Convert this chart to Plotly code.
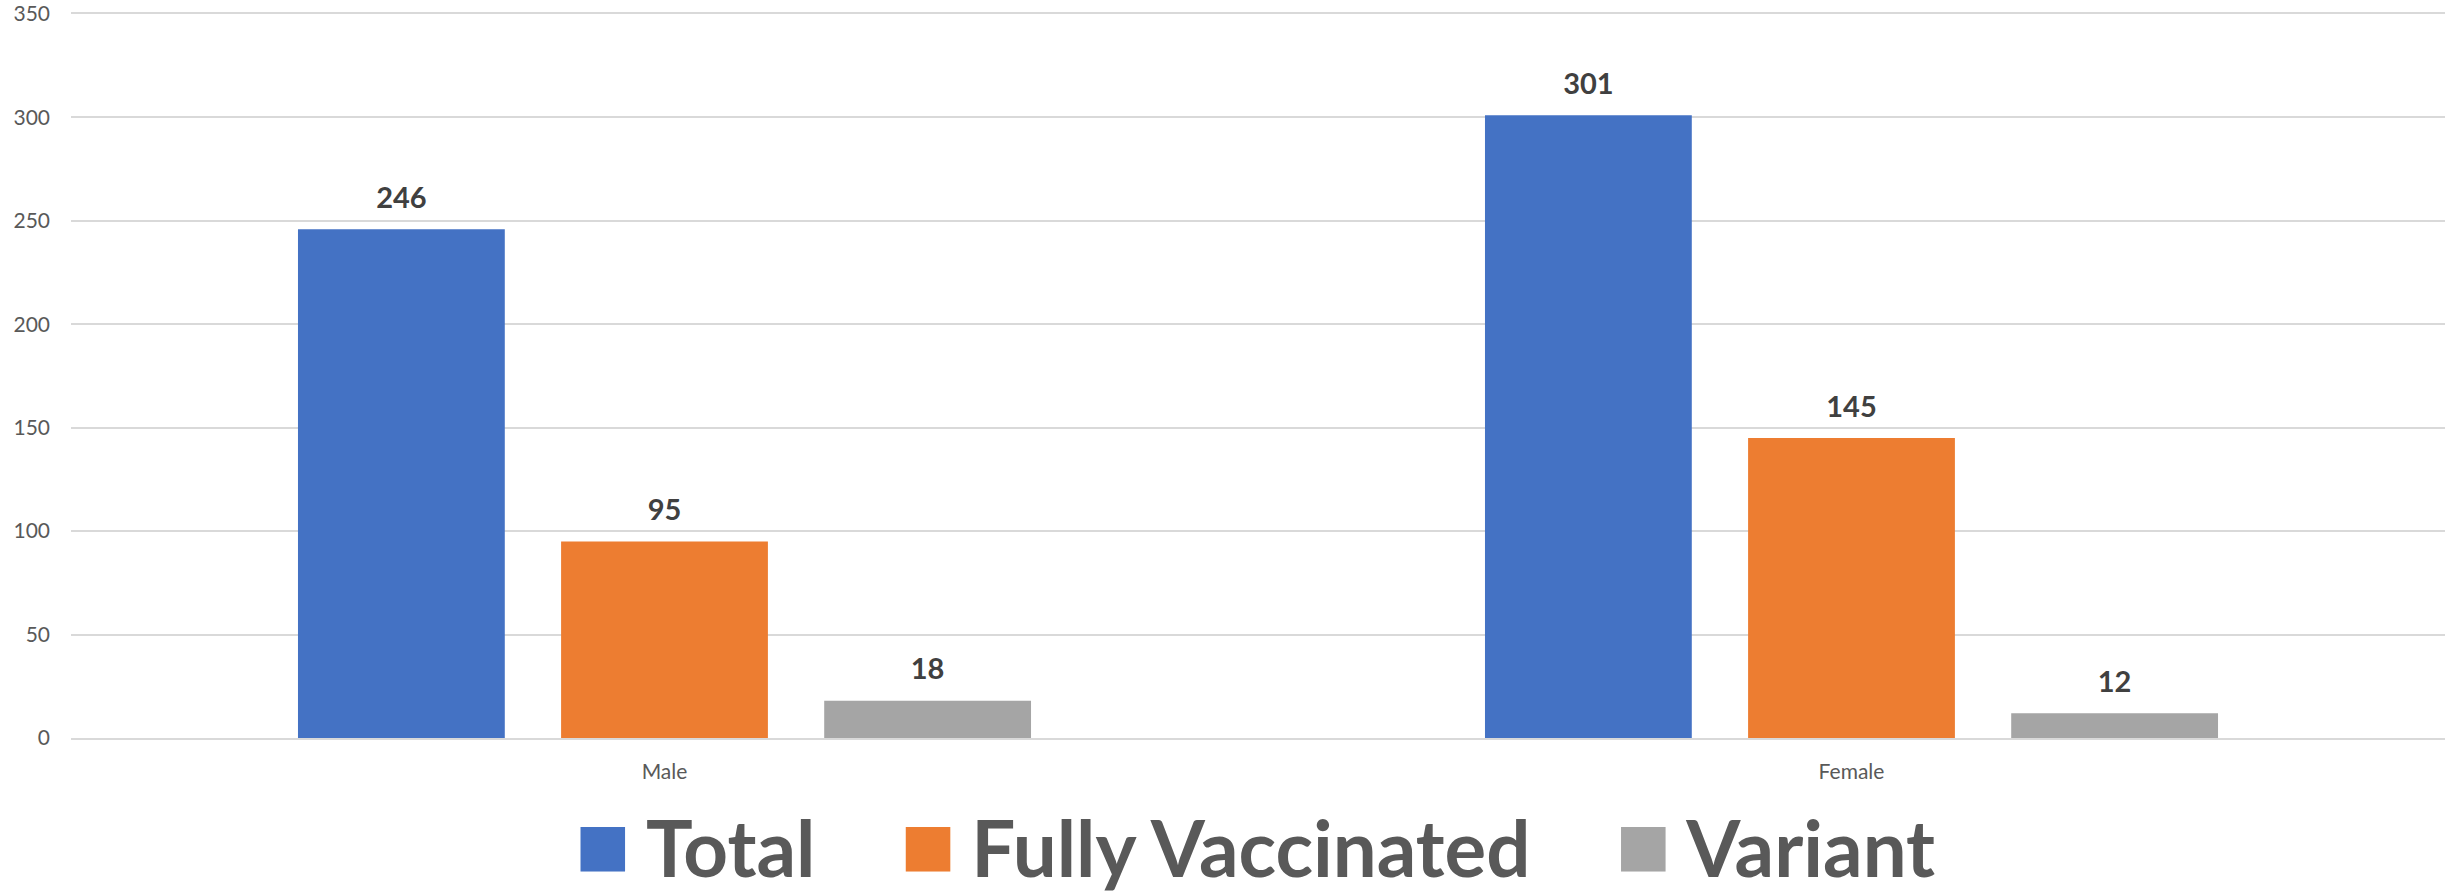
import plotly.graph_objects as go

categories = ["Male", "Female"]
series_names = ["Total", "Fully Vaccinated", "Variant"]
total = [246, 301]
fully_vaccinated = [95, 145]
variant = [18, 12]
colors = ["#4472C4", "#ED7D31", "#A5A5A5"]
y_ticks = [0, 50, 100, 150, 200, 250, 300, 350]
label_pad = 6  # visual gap (in axis units) between bar top and its value label

fig = go.Figure()
for i, (name, vals, col) in enumerate(zip(series_names, [total, fully_vaccinated, variant], colors)):
    fig.add_trace(go.Bar(
        x=categories, y=vals, name=name, offsetgroup=str(i),
        marker=dict(color=col, line=dict(width=0)), showlegend=False,
    ))
    # transparent spacer carrying the value label
    fig.add_trace(go.Bar(
        x=categories, y=[label_pad] * len(vals), base=vals, offsetgroup=str(i),
        marker=dict(color="rgba(0,0,0,0)", line=dict(width=0)), showlegend=False,
        text=vals, texttemplate="<b>%{text}</b>", textposition="outside", cliponaxis=False,
        textfont=dict(family="Lato", size=29, color="#404040"), hoverinfo="skip",
    ))
# legend entries (large coloured squares as glyphs)
for name, col in zip(series_names, colors):
    fig.add_trace(go.Scatter(
        x=[categories[0]], y=[None], mode="markers",
        marker=dict(color="rgba(0,0,0,0)", size=1),
        name=(f"<span style='color:{col};font-size:92px'>■</span>"
              f"<span style='font-size:60px'>&nbsp;</span><b>{name}</b>&nbsp;&nbsp;"),
        showlegend=True, hoverinfo="skip",
    ))

fig.update_layout(
    width=2456, height=893,
    margin=dict(l=71, r=11, t=14, b=155, autoexpand=False),
    paper_bgcolor="white", plot_bgcolor="white",
    barmode="group", bargap=0.335, bargroupgap=0.214,
    font=dict(family="Lato", color="#595959"),
    legend=dict(orientation="h", x=0.5, xanchor="center", xref="paper",
                y=-0.071, yanchor="top",
                font=dict(family="Lato", size=78, color="#595959"),
                itemwidth=30, tracegroupgap=0),
    showlegend=True,
)
fig.update_yaxes(range=[0, 350], tickvals=y_ticks, showgrid=True,
                 gridcolor="#D9D9D9", gridwidth=2, zeroline=False, showline=False,
                 tickfont=dict(family="Lato", size=21, color="#595959"),
                 ticklabelstandoff=20, ticklabeloverflow="allow")
fig.update_xaxes(showgrid=False, showline=True, mirror=True, linecolor="#D9D9D9", linewidth=2,
                 tickfont=dict(family="Lato", size=21, color="#595959"),
                 ticklabelstandoff=14)

fig.write_html("out.html", config={"displayModeBar": False},
               post_script="document.body.style.margin='0px';")
